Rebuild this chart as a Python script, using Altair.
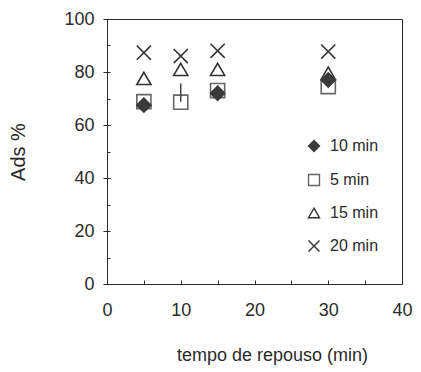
import altair as alt
import pandas as pd

# ---- data ----
tempo = [5, 10, 15, 30]
series_names = ["10 min", "5 min", "15 min", "20 min"]
ads_10 = [67.5, None, 72, 77]
ads_5 = [68.8, 68.6, 73, 74.5]
ads_15 = [77.6, 81, 81, 79.5]
ads_20 = [87.3, 86, 88, 87.7]
seg_x = [10]
seg_low = [68.8]
seg_high = [75.7]

x_ticks = [0, 10, 20, 30, 40]
x_minor = [0, 5, 10, 15, 20, 25, 30, 35, 40]
y_ticks = [0, 20, 40, 60, 80, 100]
y_minor = [0, 10, 20, 30, 40, 50, 60, 70, 80, 90, 100]

series_vals = {"10 min": ads_10, "5 min": ads_5, "15 min": ads_15, "20 min": ads_20}
draw_order = {"20 min": 0, "15 min": 1, "5 min": 2, "10 min": 3}
rows = []
for name in series_names:
    for t, v in zip(tempo, series_vals[name]):
        if v is not None:
            rows.append({"tempo": t, "ads": v, "serie": name, "z": draw_order[name]})
df = pd.DataFrame(rows)
seg_df = pd.DataFrame({"tempo": seg_x, "lo": seg_low, "hi": seg_high})

FONT = "Liberation Sans"
INK = "#2a2a2a"
XPATH = "M-1,-1L1,1M-1,1L1,-1"

x_scale = alt.Scale(domain=[0, 40], nice=False, zero=False)
y_scale = alt.Scale(domain=[0, 100], nice=False, zero=False)

leg = alt.Legend(title=None, orient="none", legendX=199, legendY=119,
                 labelFontSize=16, labelFont=FONT, labelColor=INK,
                 symbolSize=120, symbolStrokeWidth=1.4,
                 rowPadding=16, padding=0, labelOffset=8)

points = alt.Chart(df).mark_point(filled=False, strokeWidth=1.6, opacity=1, size=200).encode(
    x=alt.X("tempo:Q", scale=x_scale,
            axis=alt.Axis(orient="bottom", values=x_ticks, ticks=False, grid=False,
                          title="tempo de repouso (min)", titleX=165, titlePadding=27,
                          labelPadding=17, labelFontSize=18, titleFontSize=18,
                          labelFont=FONT, titleFont=FONT, titleFontWeight="normal",
                          labelColor=INK, titleColor=INK, domainColor=INK,
                          labelFlush=False)),
    y=alt.Y("ads:Q", scale=y_scale,
            axis=alt.Axis(orient="left", values=y_ticks, tickSize=4, grid=False,
                          title="Ads %", titlePadding=35, labelPadding=9,
                          labelFontSize=18, titleFontSize=20, labelFont=FONT,
                          titleFont=FONT, titleFontWeight="normal",
                          labelColor=INK, titleColor=INK, domainColor=INK,
                          tickColor=INK)),
    shape=alt.Shape("serie:N", scale=alt.Scale(domain=series_names,
                    range=["diamond", "square", "triangle-up", XPATH]), legend=leg),
    fill=alt.Fill("serie:N", scale=alt.Scale(domain=series_names,
                  range=["#3a3a3a", "transparent", "transparent", "transparent"]),
                  legend=leg),
    stroke=alt.Stroke("serie:N", scale=alt.Scale(domain=series_names,
                      range=["#3a3a3a", "#666666", "#333333", "#333333"]),
                      legend=leg),
    order=alt.Order("z:Q"),
)

segment = alt.Chart(seg_df).mark_rule(color="#444444", strokeWidth=1.5).encode(
    x=alt.X("tempo:Q", scale=x_scale,
            axis=alt.Axis(orient="bottom", values=x_minor, offset=-4, tickSize=4,
                          domain=False, labels=False, title=None, grid=False,
                          tickColor=INK)),
    y=alt.Y("lo:Q", scale=y_scale,
            axis=alt.Axis(orient="left", values=y_minor, offset=-3, tickSize=3,
                          domain=False, labels=False, title=None, grid=False,
                          tickColor=INK)),
    y2="hi:Q",
)

chart = alt.layer(points, segment).resolve_axis(
    x="independent", y="independent"
).properties(
    width=295,
    height=265,
    autosize=alt.AutoSizeParams(type="none"),
    padding={"left": 99, "top": 11, "right": 11, "bottom": 86},
    background="white",
).configure_view(stroke=INK, strokeWidth=1)

chart.save("out.html", embed_options={"renderer": "svg", "actions": False})
